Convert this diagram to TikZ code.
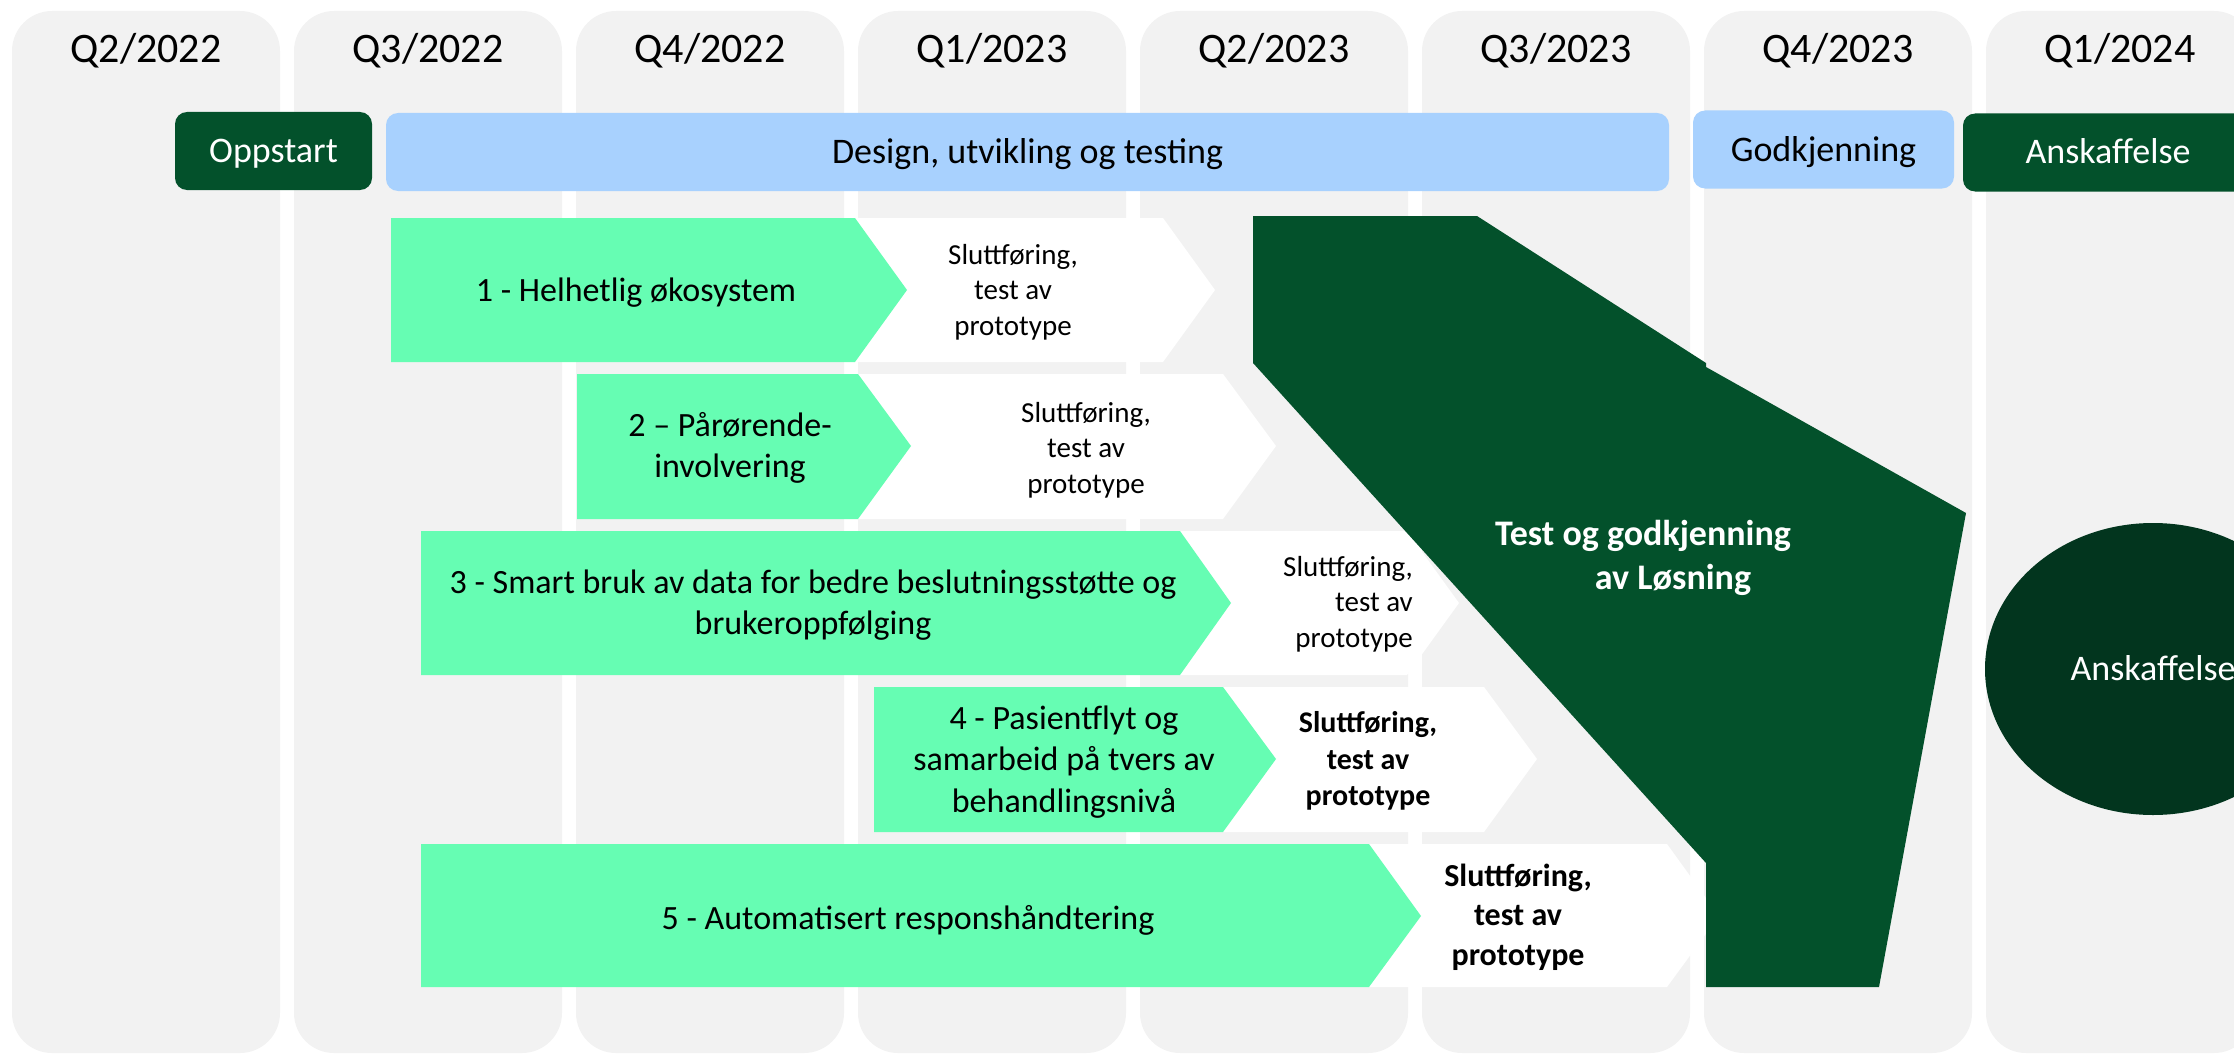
\documentclass[tikz,border=0pt]{standalone}
\usepackage{fontspec}
\setmainfont{Carlito}
\usetikzlibrary{positioning,shapes.geometric}

\definecolor{colgray}{HTML}{F2F2F2}
\definecolor{lightblue}{HTML}{A8D1FE}
\definecolor{mint}{HTML}{66FDB3}
\definecolor{darkgreen}{HTML}{03512B}
\definecolor{deepgreen}{HTML}{02351E}

\tikzset{
  column/.style={fill=colgray, rounded corners=40pt, minimum width=268pt, minimum height=1042pt, inner sep=0pt, outer sep=0pt},
  quarter/.style={anchor=base, font=\fontsize{42}{51}\selectfont},
  phase/.style={rounded corners=12pt, minimum height=78pt, inner sep=0pt, text height=23pt, text depth=0pt, font=\fontsize{36}{44}\selectfont},
  task/.style={align=center, font=\fontsize{34}{41.5}\selectfont},
  finish/.style={align=center, font=\fontsize{29}{35.4}\selectfont},
  finishbold/.style={align=center, font=\bfseries\fontsize{30}{36.6}\selectfont}
}

\begin{document}
\begin{tikzpicture}[x=1pt, y=-1pt, node distance=14pt]
                \useasboundingbox (0,0) rectangle (2234,1054);
                \clip (0,0) rectangle (2234,1054);

                \node[column] (c1) at (146,532) {};
                \node[column] (c2) [right=of c1] {};
                \node[column] (c3) [right=of c2] {};
                \node[column] (c4) [right=of c3] {};
                \node[column] (c5) [right=of c4] {};
                \node[column] (c6) [right=of c5] {};
                \node[column] (c7) [right=of c6] {};
                \node[column] (c8) [right=of c7] {};

                \node[quarter] (q1) at ([yshift=-52pt] c1.north) {Q2/2022};
                \node[quarter] (q2) at ([yshift=-52pt] c2.north) {Q3/2022};
                \node[quarter] (q3) at ([yshift=-52pt] c3.north) {Q4/2022};
                \node[quarter] (q4) at ([yshift=-52pt] c4.north) {Q1/2023};
                \node[quarter] (q5) at ([yshift=-52pt] c5.north) {Q2/2023};
                \node[quarter] (q6) at ([yshift=-52pt] c6.north) {Q3/2023};
                \node[quarter] (q7) at ([yshift=-52pt] c7.north) {Q4/2023};
                \node[quarter] (q8) at ([yshift=-52pt] c8.north) {Q1/2024};

                \node[phase, fill=darkgreen, text=white, minimum width=197pt] (oppstart) at (273.5,151) {Oppstart};
                \node[phase, fill=lightblue, minimum width=1283pt] (design) at (1027.5,152) {Design, utvikling og testing};
                \node[phase, fill=lightblue, minimum width=261pt] (godkj) at (1823.5,149.5) {Godkjenning};
                \node[phase, fill=darkgreen, text=white, minimum width=290pt] (anskaff) at (2108,152.5) {Anskaffelse};

                \fill[white] (855,218) -- (1163,218) -- (1215,290) -- (1163,362) -- (855,362) -- cycle;
                \fill[mint] (391,218) -- (855,218) -- (907,290) -- (855,362) -- (391,362) -- cycle;
                \fill[white] (858,374) -- (1223,374) -- (1276,446) -- (1223,519) -- (858,519) -- cycle;
                \fill[mint] (577,374) -- (858,374) -- (911,446) -- (858,519) -- (577,519) -- cycle;
                \fill[white] (1180,531) -- (1407,531) -- (1459,603) -- (1407,675) -- (1180,675) -- cycle;
                \fill[mint] (421,531) -- (1180,531) -- (1231,603) -- (1180,675) -- (421,675) -- cycle;
                \fill[white] (1223,687) -- (1484,687) -- (1537,759) -- (1484,832) -- (1223,832) -- cycle;
                \fill[mint] (874,687) -- (1223,687) -- (1276,759) -- (1223,832) -- (874,832) -- cycle;
                \fill[white] (1369,844) -- (1667,844) -- (1719,916) -- (1667,987) -- (1369,987) -- cycle;
                \fill[mint] (421,844) -- (1369,844) -- (1421,916) -- (1369,987) -- (421,987) -- cycle;

                \fill[darkgreen] (1253,216) -- (1477,216) -- (1706,363) -- (1706,367) -- (1966,513)
                    -- (1879,987) -- (1706,987) -- (1706,863) -- (1253,363) -- cycle;

                \node[task] (task1) at (636,293) {1 - Helhetlig økosystem};
                \node[task] (task2) at (730,448) {2 – Pårørende-\\involvering};
                \node[task] (task3) at (813,605) {3 - Smart bruk av data for bedre beslutningsstøtte og\\brukeroppfølging};
                \node[task] (task4) at (1064,762) {4 - Pasientflyt og\\samarbeid på tvers av\\behandlingsnivå};
                \node[task] (task5) at (908,920) {5 - Automatisert responshåndtering};

                \node[finish] (fin1) at (1013,292) {Sluttføring,\\test av\\prototype};
                \node[finish] (fin2) at (1086,450) {Sluttføring,\\test av\\prototype};
                \node[finish, align=right, anchor=east, inner sep=0pt] (fin3) at (1413,604) {Sluttføring,\\test av\\prototype};
                \node[finishbold] (fin4) at (1368,761) {Sluttføring,\\test av\\prototype};
                \node[finishbold, font=\bfseries\fontsize{32}{39.5}\selectfont] (fin5) at (1518,917) {Sluttføring,\\test av\\prototype};

                \node[align=center, text=white, font=\bfseries\fontsize{36}{43.5}\selectfont] (test) at (1643,558) {Test og godkjenning\\\hspace*{60pt}av Løsning};

                \node[ellipse, fill=deepgreen, text=white, minimum width=336pt, minimum height=292pt, inner sep=0pt,
                    text height=23pt, text depth=0pt, font=\fontsize{36}{44}\selectfont] (ansk) at (2153,669) {Anskaffelse};
            \end{tikzpicture}
\end{document}
